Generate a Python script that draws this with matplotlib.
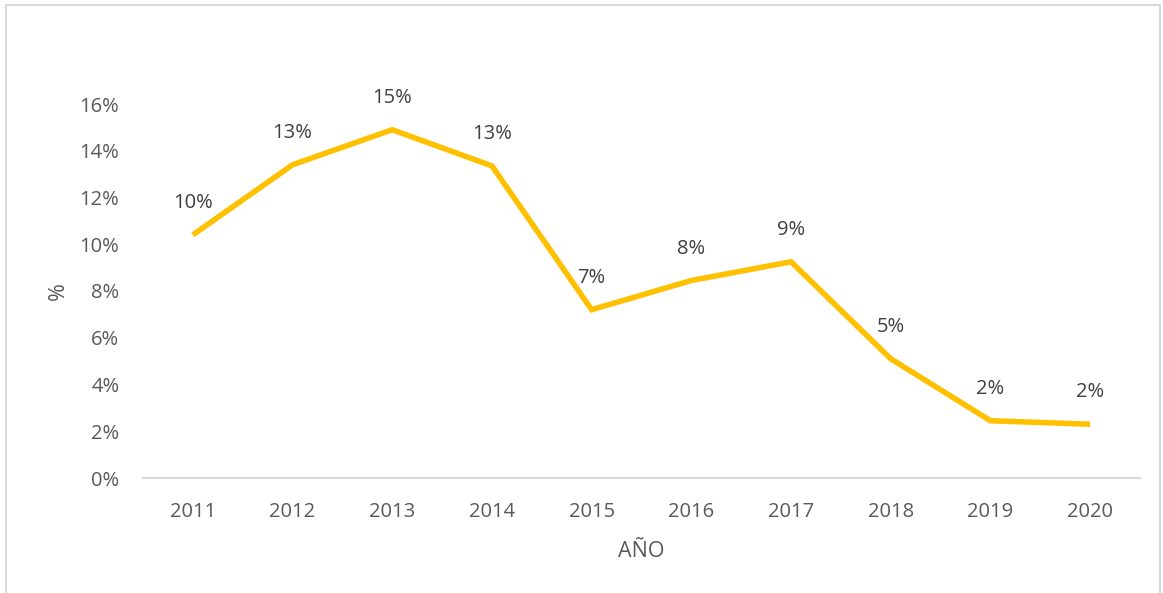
import numpy as np
import matplotlib.pyplot as plt
from matplotlib.patches import Rectangle

years = ['2011', '2012', '2013', '2014', '2015', '2016', '2017', '2018', '2019', '2020']
values = [10.4, 13.4, 14.9, 13.35, 7.2, 8.45, 9.25, 5.1, 2.45, 2.3]
yticks = [0, 2, 4, 6, 8, 10, 12, 14, 16]

txt = '#595959'
plt.rcParams['font.family'] = ['Open Sans', 'DejaVu Sans']

fig = plt.figure(figsize=(11.63, 5.93), dpi=100)
ax = fig.add_axes([143/1163, 1 - 478/593, (1140 - 143)/1163, (478 - 104)/593])

x = np.arange(len(years))
ax.plot(x, values, color='#FFC000', lw=4, solid_capstyle='butt', solid_joinstyle='miter')

for xi, v in zip(x, values):
    ax.annotate('%d%%' % round(v), (xi, v), xytext=(0, 23), textcoords='offset points',
                ha='center', va='center', fontsize=14.5, color='#404040')

ax.set_xlim(-0.5, 9.5)
ax.set_ylim(0, 16)
ax.set_xticks(x)
ax.set_xticklabels(years)
ax.set_yticks(yticks)
ax.set_yticklabels(['%d%%' % t for t in yticks])
ax.tick_params(length=0, labelsize=14.5, colors=txt, pad=17)
ax.tick_params(axis='y', pad=17)

for s in ['top', 'right', 'left']:
    ax.spines[s].set_visible(False)
ax.spines['bottom'].set_color('#D9D9D9')
ax.spines['bottom'].set_linewidth(1.5)

ax.set_xlabel('AÑO', fontsize=15.5, color=txt, labelpad=14)
ax.set_ylabel('%', fontsize=15.5, color=txt, labelpad=8)

# chart border
fig.patches.append(Rectangle((6/1163, -0.01), 1154/1163, 1 - 5/593 + 0.01, transform=fig.transFigure,
                             fill=False, edgecolor='#D9D9D9', lw=1.5))

plt.savefig('out.png')
